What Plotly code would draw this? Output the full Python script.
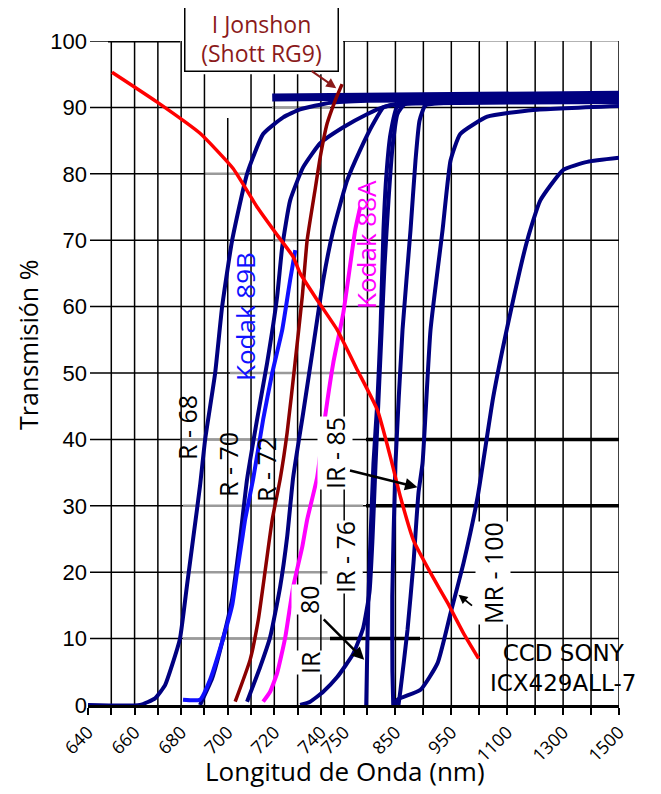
import numpy as np
import plotly.graph_objects as go

# ---------------- axis (category-like wavelength axis) ----------------
TICK_NM = [640, 650, 660, 670, 680, 690, 700, 710, 720, 730, 740, 750,
           800, 850, 900, 950, 1000, 1100, 1200, 1300, 1400, 1500]
TICK_POS = [0, 1, 2, 3, 4, 5, 6, 7, 8, 9, 10, 11,
            12, 13.2, 14.4, 15.6, 16.8, 18, 19.2, 20.4, 21.6, 22.8]
TICK_LABELED = [640, 660, 680, 700, 720, 740, 750, 850, 950, 1100, 1300, 1500]
Y_TICKS = [0, 10, 20, 30, 40, 50, 60, 70, 80, 90, 100]

# ---------------- data (wavelength nm, transmission %) ----------------
r68_nm = [640, 662.3, 668.8, 673.1, 676.1, 679.5, 682.5, 685.5, 688.1, 690.3, 694.6, 697.6,
          701.9, 708.3, 715.2, 723.8, 731.1, 744.0, 800, 1500]
r68_t = [0, 0, 1, 3, 6, 10, 18, 26, 33, 40, 50, 60, 70, 80, 86, 88.5, 89.7, 90.7, 91.0, 91.2]

k89b_nm = [680.8, 688.1, 692.4, 698.0, 701.9, 704.0, 706.2, 707.5, 710.9, 715.2, 719.1, 723.4, 726.8, 729.0]
k89b_t = [0.8, 0.8, 3.8, 10, 15, 20, 25, 28, 34, 43, 50, 56.5, 64, 68.5]

r70_nm = [688.1, 693.3, 698.0, 701.9, 705.3, 708.3, 712.6, 716.9, 721.2, 723.4, 726.8, 732.4,
          739.7, 749.6, 800, 826.9, 859.1, 1500]
r70_t = [0, 4, 10, 16, 25, 34, 43, 51.5, 61.5, 69, 76, 81, 84.6, 87, 89, 90, 90.5, 90.8]

rg9_nm = [703.2, 709.6, 713.1, 716.1, 719.1, 722.5, 725.5, 728.9, 732.0, 734.1, 737.5, 739.7, 742.7, 746.1, 749.1]
rg9_t = [0.5, 6.8, 12.8, 20.3, 27.9, 34, 41, 51.5, 61.5, 70, 77.6, 82.5, 87.6, 91, 93.5]

r72_nm = [708.3, 713.9, 718.2, 722.5, 725.5, 728.1, 732.4, 736.7, 741.0, 745.3, 756.4, 784.4,
          810.7, 828.6, 859.1, 1500]
r72_t = [0.5, 5.7, 10.2, 17.8, 25.3, 34.3, 44, 54, 64, 71.5, 79, 83.6, 87.6, 90, 90.6, 90.9]

k88a_nm = [715.2, 718.2, 721.2, 724.7, 728.1, 732.0, 734.1, 738.4, 741.0, 745.3, 749.6, 773.6, 784.4]
k88a_t = [0.5, 2, 4.8, 10.2, 17.8, 23.8, 27.9, 34.3, 41.4, 51.5, 59, 71.5, 75]

ir76_nm = [731.1, 735.4, 741.0, 747.0, 769.3, 790.8, 803.6, 809.0, 814.3, 819.7, 825.1, 830.4,
           837.6, 844.8, 853.7, 868.0, 1500]
ir76_t = [0, 0.5, 2, 4.2, 7.7, 11.6, 17, 25, 36, 46, 56, 66, 76, 84, 89, 90.6, 91.0]

ir80_nm = [797.3, 800, 801.8, 805.4, 810.7, 817.9, 823.3, 828.6, 834.0, 841.2, 853.7, 894.9, 1500]
ir80_t = [0, 10, 16.3, 25, 36.4, 46, 56.5, 71.5, 80, 86, 90.2, 90.8, 91.2]

irb_nm = [846.1, 844.6, 844.3, 850.1, 862.7, 877.0, 885.9, 893.1, 903.8, 966, 1500]
irb_t = [0, 5, 16.3, 36.4, 56.5, 71.5, 82, 88, 90.3, 90.8, 91.2]

ir85_nm = [855.5, 859.1, 871.6, 882.3, 891.3, 898.5, 912.8, 934.3, 948.6, 966.0, 1028.6, 1193.3, 1500]
ir85_t = [0, 2.3, 11.3, 21.4, 32, 36.4, 56.5, 71.5, 82, 86, 88.6, 89.6, 90.2]

mr100_nm = [850.1, 853.7, 894.9, 925.4, 948.6, 971.9, 997.0, 1050.1, 1111.0, 1171.8, 1218.4,
            1300.7, 1386.7, 1500]
mr100_t = [0, 0.8, 2.3, 6.3, 13.8, 21.4, 31.3, 46.4, 59, 70, 76, 80.6, 81.8, 82.4]

band_nm = [719.1, 1500]
band_t = [91.5, 91.9]

ccd_nm = [650.3, 669.7, 688.1, 702.3, 712.6, 721.2, 728.1, 731.1, 738.4, 747.0, 777.9, 817.9,
          841.2, 859.1, 882.3, 912.8, 943.2, 971.9, 998.8]
ccd_t = [95.3, 90.8, 86.1, 80.8, 75, 70.8, 67.5, 65, 61, 56.5, 50.5, 44.4, 37.3, 31.3, 24.8,
         19.9, 15.4, 10.8, 7.0]


def pos(nm):
    return np.interp(nm, TICK_NM, TICK_POS)


# ---------------- layout helpers (page pixels -> paper) ----------------
# the page body has an 8px margin, so the figure sits at (8, 8) in the window
OFF = 8
L, R, T, B = 88, 619, 41, 705          # plot area in window pixels
W, H = 653, 786                        # figure size


def px_x(px):
    return (px - L) / (R - L)


def px_y(py):
    return (B - py) / (B - T)


NAVY = "#000080"
BLUE = "#1010ff"
MAGENTA = "#ff00ff"
DRED = "#8b0000"
RED = "#ff0000"
COMIC = "Comic Sans MS, Open Sans, sans-serif"

fig = go.Figure()


def add_line(xnm, yv, color, width, smooth=0.45):
    fig.add_trace(go.Scatter(
        x=pos(xnm), y=yv, mode="lines",
        line=dict(color=color, width=width, shape="spline", smoothing=smooth),
        hoverinfo="skip", showlegend=False))


# navy filters
for xs, ys in [(r68_nm, r68_t), (r70_nm, r70_t), (r72_nm, r72_t), (ir76_nm, ir76_t),
               (ir80_nm, ir80_t), (irb_nm, irb_t), (ir85_nm, ir85_t), (mr100_nm, mr100_t)]:
    add_line(xs, ys, NAVY, 4)
add_line(band_nm, band_t, NAVY, 8, smooth=0)
add_line(k89b_nm, k89b_t, BLUE, 4)
add_line(k88a_nm, k88a_t, MAGENTA, 4)
add_line(rg9_nm, rg9_t, DRED, 3.5)
add_line(ccd_nm, ccd_t, RED, 3.5)

shapes = []
# horizontal grid
for v in Y_TICKS[1:-1]:
    shapes.append(dict(type="line", xref="paper", yref="y", x0=px_x(90), x1=1, y0=v, y1=v,
                       line=dict(color="black", width=1.5), layer="below"))
# gray segments from the overlaid sheets
for v, a, b in [(10, 183, 363), (20, 183, 363), (30, 183, 363), (40, 180, 300),
                (50, 230, 350), (70, 273, 297), (80, 205, 245), (90, 272, 330)]:
    shapes.append(dict(type="line", xref="paper", yref="y", x0=px_x(a), x1=px_x(b), y0=v, y1=v,
                       line=dict(color="#9a9a9a", width=2.5), layer="below"))
for v, a, b in [(30, 366, 619), (40, 366, 619), (10, 330, 420)]:
    shapes.append(dict(type="line", xref="paper", yref="y", x0=px_x(a), x1=px_x(b), y0=v, y1=v,
                       line=dict(color="black", width=3.5), layer="below"))
# top line (partial)
shapes.append(dict(type="line", xref="paper", yref="y", x0=px_x(90), x1=px_x(180), y0=100, y1=100,
                   line=dict(color="black", width=1.5), layer="below"))
shapes.append(dict(type="line", xref="paper", yref="y", x0=px_x(108), x1=px_x(180), y0=100, y1=100,
                   line=dict(color="black", width=3), layer="below"))
shapes.append(dict(type="line", xref="paper", yref="y", x0=px_x(343), x1=px_x(478), y0=100, y1=100,
                   line=dict(color="black", width=1.5), layer="below"))
shapes.append(dict(type="line", xref="paper", yref="y", x0=px_x(478), x1=1, y0=100, y1=100,
                   line=dict(color="#9a9a9a", width=1.5), layer="below"))
# vertical grid
for nm, p in zip(TICK_NM[1:], TICK_POS[1:]):
    top = 100
    if 690 <= nm <= 740:
        top = 95
    if nm == 700:
        top = 88.4
    shapes.append(dict(type="line", xref="x", yref="y", x0=p, x1=p, y0=0, y1=top,
                       line=dict(color="black", width=1.5), layer="below"))

fig.update_layout(shapes=shapes)

ann = []


def txt(text, px, py, size=25, color="black", angle=-90, bg=None, font=COMIC):
    d = dict(text=text, xref="paper", yref="paper", x=px_x(px), y=px_y(py),
             xanchor="center", yanchor="middle", showarrow=False, textangle=angle,
             font=dict(family=font, size=size, color=color), borderpad=0)
    if bg:
        d["bgcolor"] = bg
    ann.append(d)


txt("R - 68", 187, 428)
txt("R - 70", 228, 465)
txt("R - 72", 266, 470)
txt("IR - 85", 335, 453, bg="white")
txt("IR - 76", 345, 557, bg="white")
txt("IR", 310, 663, bg="white")
txt("80", 309, 600, bg="white")
txt("MR - 100", 493, 573, bg="white")
txt("Kodak 89B", 245, 317, color=BLUE, size=26)
txt("Kodak 88A", 366, 245, color=MAGENTA, size=26)
txt("CCD SONY<br>ICX429ALL-7", 563, 668, angle=0, size=23, font="DejaVu Sans, sans-serif")
txt("Transmisión %", 28, 345, size=25)
txt("Longitud de Onda (nm)", 345, 771, angle=0, size=26)

# Shott RG9 label box
ann.append(dict(text="I Jonshon<br>(Shott RG9)", xref="paper", yref="paper",
                x=px_x(261), y=px_y(39), xanchor="center", yanchor="middle", showarrow=False,
                font=dict(family=COMIC, size=23, color="#8b1a1a"),
                bgcolor="white", bordercolor="black", borderwidth=1.5, borderpad=2,
                width=148, height=60))


def arrow(nm, val, ax, ay, color="black", width=2.5):
    ann.append(dict(text="", x=pos(nm), y=val, xref="x", yref="y", ax=ax, ay=ay,
                    axref="pixel", ayref="pixel", showarrow=True, arrowhead=2,
                    arrowsize=1, arrowwidth=width, arrowcolor=color))


arrow(793, 6.8, -42, -42)
arrow(889.5, 32.8, -69, -17)
arrow(962.9, 16.6, 15, 12, width=1.8)
arrow(746.6, 92.9, -26, -18, color="#8b1a1a", width=2)

fig.update_layout(annotations=ann)

fig.update_xaxes(
    range=[0, 22.8], tickmode="array", tickvals=TICK_POS,
    ticktext=[str(n) if n in TICK_LABELED else "" for n in TICK_NM],
    tickangle=-45, tickfont=dict(family=COMIC, size=18, color="black"),
    showgrid=False, zeroline=False, showline=True, linecolor="black", linewidth=2.5,
    ticks="outside", ticklen=7, tickwidth=1.5, tickcolor="black", automargin=False)
fig.update_yaxes(
    range=[0, 100], tickmode="array", tickvals=Y_TICKS,
    tickfont=dict(family="Liberation Sans, Arial, sans-serif", size=22, color="black"),
    showgrid=False, zeroline=False, showline=False, ticks="", automargin=False)

fig.update_layout(
    width=W, height=H, template="none",
    margin=dict(l=L - OFF, r=W - (R - OFF), t=T - OFF, b=H - (B - OFF), pad=0),
    paper_bgcolor="white", plot_bgcolor="white", showlegend=False)

fig.write_html("out.html")
